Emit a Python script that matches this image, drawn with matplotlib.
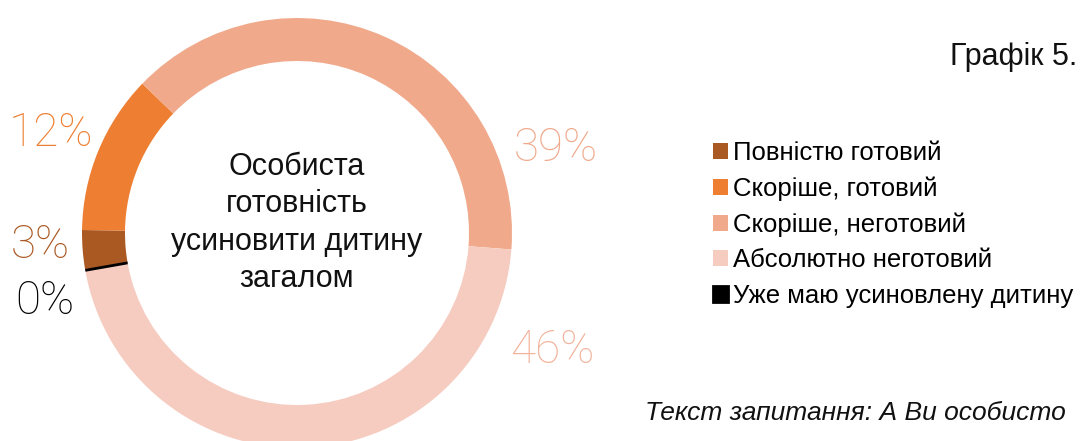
import matplotlib.pyplot as plt

# data
labels = ['Повністю готовий', 'Скоріше, готовий', 'Скоріше, неготовий',
          'Абсолютно неготовий', 'Уже маю усиновлену дитину']
values = [3, 12, 39, 46, 0]
colors = ['#AB5923', '#ED7E32', '#F0A98B', '#F6CCC0', '#000000']
label_colors = ['#AB5923', '#ED7E32', '#F0A98B', '#F2B29B', '#000000']
# where each percentage sits (data coords of the pie axes)
label_pos = [(-1.195, -0.055), (-1.144, 0.465), (1.205, 0.395), (1.19, -0.545), (-1.172, -0.315)]

center_text = 'Особиста\nготовність\nусиновити дитину\nзагалом'

plt.rcParams['font.family'] = ['Liberation Sans', 'DejaVu Sans']
light = ['Roboto', 'DejaVu Sans']

fig = plt.figure(figsize=(10.8, 4.41), dpi=100)
ax = fig.add_axes([82 / 1080, -7 / 441, 430 / 1080, 430 / 441])

wedges, _ = ax.pie(values, colors=colors, startangle=190, counterclock=False,
                   radius=1.0, wedgeprops=dict(width=0.2, linewidth=0))
for w, c in zip(wedges, colors):
    if c == '#000000':
        w.set_edgecolor('#000000')
        w.set_linewidth(2)

ax.set_xlim(-1, 1)
ax.set_ylim(-1, 1)
ax.set_aspect('equal')

for v, (x, y), c in zip(values, label_pos, label_colors):
    ax.text(x, y, f'{v}%', color=c, fontsize=33, fontweight='light', family=light,
            ha='center', va='center')

ax.text(0, 0.046, center_text, ha='center', va='center', fontsize=22,
        color='#111111', linespacing=1.33)

fig.legend(wedges, labels, loc='upper left', bbox_to_anchor=(713 / 1080, 1 - 141 / 441),
           frameon=False, handlelength=0.58, handleheight=0.58,
           handletextpad=0.2, labelspacing=0.445, borderpad=0, borderaxespad=0,
           prop={'size': 18.5})

fig.text(950 / 1080, 1 - 57 / 441, 'Графік 5.', fontsize=22, ha='left', va='center',
         color='#111111')
fig.text(645 / 1080, 1 - 413 / 441, 'Текст запитання: А Ви особисто', fontsize=19,
         style='italic', ha='left', va='center', color='#111111')

fig.savefig('out.png', dpi=100)
